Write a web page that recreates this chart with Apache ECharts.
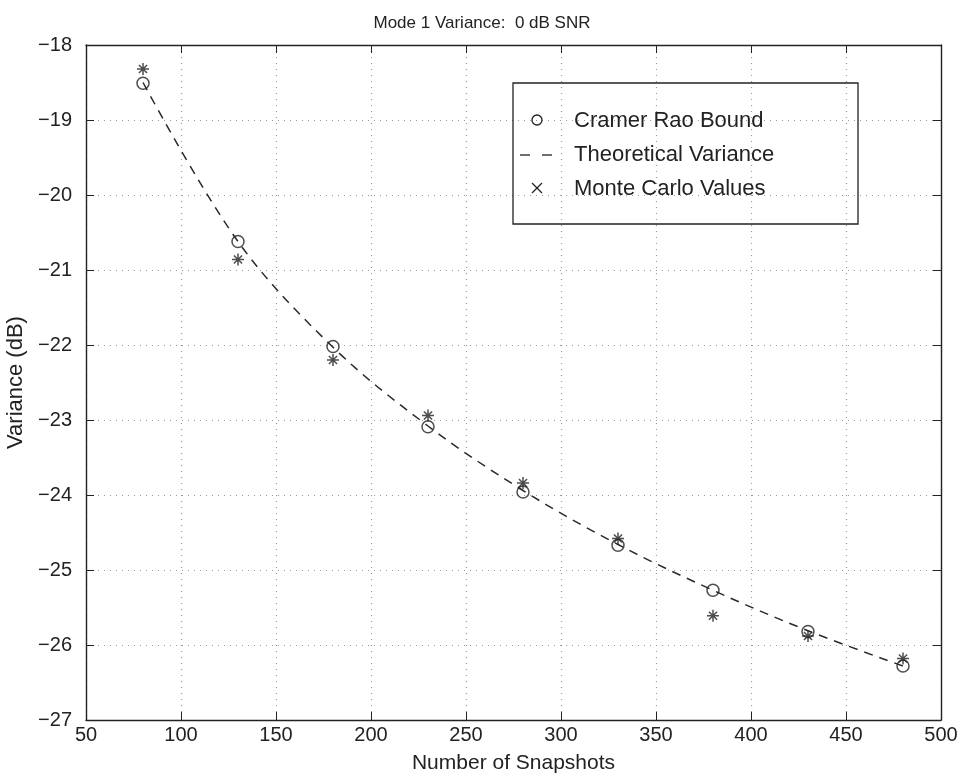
<!DOCTYPE html>
<html>
<head>
<meta charset="utf-8">
<script src="https://cdn.jsdelivr.net/npm/echarts@6/dist/echarts.min.js"></script>
<style>html,body{margin:0;padding:0;background:#fff}#c{width:964px;height:780px}</style>
</head>
<body>
<div id="c"></div>
<script>
const titleText = 'Mode 1 Variance:  0 dB SNR';
const xName = 'Number of Snapshots';
const yName = 'Variance (dB)';
const snapshots = [80, 130, 180, 230, 280, 330, 380, 430, 480];
const cramerRao = [-18.51, -20.62, -22.02, -23.09, -23.96, -24.67, -25.27, -25.82, -26.28];
const theoretical = [-18.50, -20.62, -22.03, -23.08, -23.94, -24.66, -25.27, -25.81, -26.28];
const monteCarlo = [-18.32, -20.86, -22.20, -22.94, -23.84, -24.58, -25.61, -25.88, -26.18];
const xTicks = {min: 50, max: 500, interval: 50};
const yTicks = {min: -27, max: -18, interval: 1};
const legendNames = ['Cramer Rao Bound', 'Theoretical Variance', 'Monte Carlo Values'];

const FONT = '"Liberation Sans", Arial, sans-serif';
const INK = '#222';
const pair = (xs, ys) => xs.map((x, i) => [x, ys[i]]);
const star = 'path://M5,0L5,10M0,5L10,5M1.6,1.6L8.4,8.4M8.4,1.6L1.6,8.4';
const minus = v => String(v).replace('-', '\u2212');

const chart = echarts.init(document.getElementById('c'), null, {renderer: 'canvas'});
const baseX = {
  type: 'value', min: xTicks.min, max: xTicks.max, interval: xTicks.interval,
  axisLine: {show: true, lineStyle: {color: INK, width: 1.4}},
  axisTick: {show: true, inside: true, length: 8, lineStyle: {color: INK, width: 1}},
  splitLine: {show: false}
};
const baseY = {
  type: 'value', min: yTicks.min, max: yTicks.max, interval: yTicks.interval,
  axisLine: {show: true, lineStyle: {color: INK, width: 1.4}},
  axisTick: {show: true, inside: true, length: 8, lineStyle: {color: INK, width: 1}},
  splitLine: {show: false}
};
const legendText = (i, y) => ({
  type: 'text', x: 574, y: y, z: 10,
  style: {text: legendNames[i], font: '22px ' + FONT, fill: INK, verticalAlign: 'middle'}
});
const seg = (x1, y1, x2, y2) => ({
  type: 'line', z: 10, shape: {x1: x1, y1: y1, x2: x2, y2: y2},
  style: {stroke: INK, lineWidth: 1.3}
});
const option = {
  backgroundColor: '#fff',
  animation: false,
  title: {
    text: titleText, left: 'center', top: 10,
    textStyle: {fontFamily: FONT, fontSize: 17, fontWeight: 'normal', color: INK}
  },
  grid: {left: 86, right: 23, top: 45, bottom: 60, containLabel: false, outerBoundsMode: 'none'},
  xAxis: [
    Object.assign({}, baseX, {
      position: 'bottom',
      name: xName, nameLocation: 'middle', nameGap: 33,
      nameTextStyle: {fontFamily: FONT, fontSize: 21, color: INK},
      axisLabel: {fontFamily: FONT, fontSize: 20, color: INK, margin: 5},
      splitLine: {show: true, lineStyle: {color: '#9a9a9a', type: [1, 5], width: 1.2}}
    }),
    Object.assign({}, baseX, {position: 'top', axisLabel: {show: false}})
  ],
  yAxis: [
    Object.assign({}, baseY, {
      position: 'left',
      name: yName, nameLocation: 'middle', nameGap: 50,
      nameTextStyle: {fontFamily: FONT, fontSize: 22, color: INK},
      axisLabel: {fontFamily: FONT, fontSize: 20, color: INK, margin: 14, formatter: minus},
      splitLine: {show: true, lineStyle: {color: '#9a9a9a', type: [1, 5], width: 1.2}}
    }),
    Object.assign({}, baseY, {position: 'right', axisLabel: {show: false}})
  ],
  series: [
    {
      name: legendNames[1], type: 'line', xAxisIndex: 0, yAxisIndex: 0,
      data: pair(snapshots, theoretical), smooth: 0.35, symbol: 'none',
      lineStyle: {color: '#2a2a2a', width: 1.5, type: [9, 7]}, z: 2
    },
    {
      name: legendNames[0], type: 'scatter', xAxisIndex: 0, yAxisIndex: 0,
      data: pair(snapshots, cramerRao), symbol: 'circle', symbolSize: 12,
      itemStyle: {color: 'rgba(0,0,0,0)', borderColor: INK, borderWidth: 1.5}, z: 3
    },
    {
      name: legendNames[2], type: 'scatter', xAxisIndex: 0, yAxisIndex: 0,
      data: pair(snapshots, monteCarlo), symbol: star, symbolSize: 12,
      itemStyle: {color: 'rgba(0,0,0,0)', borderColor: INK, borderWidth: 1.5}, z: 4
    }
  ],
  graphic: [
    {type: 'rect', z: 10, shape: {x: 513, y: 83, width: 345, height: 141},
     style: {fill: 'none', stroke: INK, lineWidth: 1.3}},
    {type: 'circle', z: 10, shape: {cx: 537, cy: 120, r: 5},
     style: {fill: 'none', stroke: INK, lineWidth: 1.3}},
    legendText(0, 121),
    seg(520, 155, 530, 155),
    seg(542, 155, 552, 155),
    legendText(1, 155),
    seg(532, 183, 542, 193),
    seg(542, 183, 532, 193),
    legendText(2, 189)
  ]
};
chart.setOption(option);
</script>
</body>
</html>
